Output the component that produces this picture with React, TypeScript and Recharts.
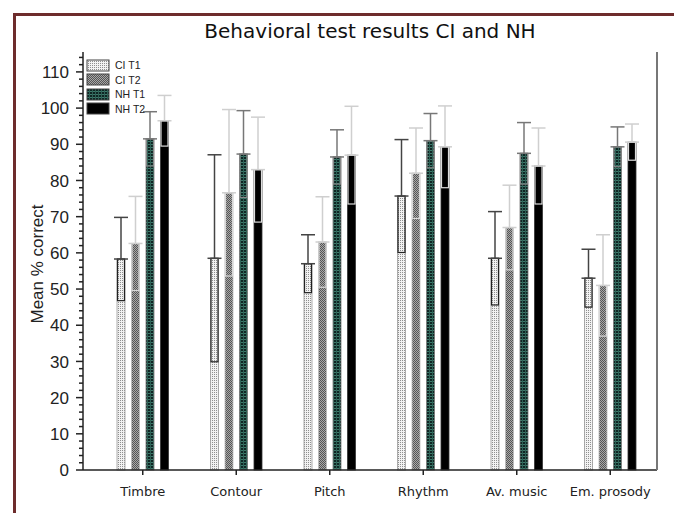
import React from 'react';
import { BarChart, Bar, XAxis, YAxis, ErrorBar, Legend, Label } from 'recharts';

const categories = ['Timbre', 'Contour', 'Pitch', 'Rhythm', 'Av. music', 'Em. prosody'];
const ciT1 = [58.3, 58.5, 57, 75.7, 58.5, 53];
const ciT1Sd = [11.5, 28.6, 8, 15.6, 12.9, 8];
const ciT2 = [62.6, 76.6, 63, 82, 67, 51];
const ciT2Sd = [13, 23, 12.5, 12.5, 11.7, 14];
const nhT1 = [91.5, 87.3, 86.5, 91, 87.5, 89.3];
const nhT1Sd = [7.5, 12, 7.5, 7.5, 8.5, 5.5];
const nhT2 = [96.5, 83, 87, 89.3, 84, 90.6];
const nhT2Sd = [7, 14.5, 13.5, 11.3, 10.5, 5];
const yTicks = Array.from({ length: 58 }, (_, i) => i * 2);

const data = categories.map((name, i) => ({
  name,
  ciT1: ciT1[i], ciT1Sd: ciT1Sd[i], ciT1Err: [0, ciT1Sd[i]],
  ciT2: ciT2[i], ciT2Sd: ciT2Sd[i], ciT2Err: [0, ciT2Sd[i]],
  nhT1: nhT1[i], nhT1Sd: nhT1Sd[i], nhT1Err: [0, nhT1Sd[i]],
  nhT2: nhT2[i], nhT2Sd: nhT2Sd[i], nhT2Err: [0, nhT2Sd[i]],
}));

// bar with the lower half of the error drawn as an outlined box inside it
const makeShape = (key: string, boxStroke: string, barStroke: string) => (props: any) => {
  const { x, y, width, height, fill, payload } = props;
  const k = height / payload[key];
  const boxH = payload[key + 'Sd'] * k;
  return (
    <g>
      <rect x={x} y={y} width={width} height={height} fill={fill} stroke={barStroke} strokeWidth={0.8} />
      <rect x={x + 0.5} y={y} width={width - 1} height={boxH} fill="none" stroke={boxStroke} strokeWidth={1.2} />
    </g>
  );
};

const YTick = (props: any) => {
  const { x, y, payload } = props;
  const major = payload.value % 10 === 0;
  return (
    <g>
      <line x1={x - (major ? 7 : 4)} x2={x} y1={y} y2={y} stroke="#222" strokeWidth={1.5} />
      {major && (
        <text x={x - 14} y={y} dy="0.36em" textAnchor="end" fontSize={17} fill="#222" fontFamily="Liberation Sans, Arial, sans-serif">
          {payload.value}
        </text>
      )}
    </g>
  );
};

const LegendBox = (props: any) => {
  const { payload } = props;
  return (
    <div>
      {payload.map((entry: any) => (
        <div key={entry.value} style={{ display: 'flex', alignItems: 'center', height: 14.5 }}>
          <svg width={24} height={13} style={{ display: 'block' }}>
            <rect x={1} y={1} width={22} height={11} fill={entry.color} stroke="#444" strokeWidth={1} />
          </svg>
          <span style={{ marginLeft: 5, fontSize: 10.5, color: '#222', fontFamily: 'Liberation Sans, Arial, sans-serif' }}>{entry.value}</span>
        </div>
      ))}
    </div>
  );
};

export default function App() {
  return (
    <div style={{ position: 'absolute', left: 0, top: 0, width: 674, height: 513, background: '#fff', overflow: 'hidden' }}>
      <div style={{ position: 'absolute', left: 13, top: 13, right: 0, bottom: 0, borderTop: '3px solid #6e2c2c', borderLeft: '3px solid #6e2c2c' }} />
      <div style={{ position: 'absolute', left: 83, width: 574, top: 19, textAlign: 'center', fontSize: 20, color: '#111', fontFamily: 'DejaVu Sans, sans-serif' }}>
        Behavioral test results CI and NH
      </div>
      <div style={{ position: 'absolute', left: 0, top: 0 }}>
        <BarChart width={674} height={513} data={data} margin={{ top: 52, right: 0, bottom: 0, left: 0 }} barSize={8} barGap={6.5}>
          <defs>
            <pattern id="pCiT1" width={2} height={2} patternUnits="userSpaceOnUse">
              <rect width={2} height={2} fill="#f2f2f2" />
              <rect width={1} height={1} fill="#8f8f8f" />
            </pattern>
            <pattern id="pCiT2" width={2} height={2} patternUnits="userSpaceOnUse">
              <rect width={2} height={2} fill="#a8a8a8" />
              <rect width={1} height={1} fill="#555" />
              <rect x={1} y={1} width={1} height={1} fill="#555" />
            </pattern>
            <pattern id="pNhT1" width={3} height={3} patternUnits="userSpaceOnUse">
              <rect width={3} height={3} fill="#0f2624" />
              <rect width={3} height={1} fill="#3d7a6c" />
              <rect width={1} height={3} fill="#2f6156" />
            </pattern>
          </defs>
          <XAxis dataKey="name" height={43} stroke="#222" strokeWidth={1.5} tickSize={5} tickMargin={12} padding={{ left: 13, right: 0 }}
            tick={{ fontSize: 13, fill: '#222', fontFamily: 'DejaVu Sans, sans-serif' }} />
          <XAxis xAxisId="top" orientation="top" dataKey="name" height={0} tick={false} tickLine={false} stroke="#777" strokeWidth={2} />
          <YAxis width={83} domain={[0, 115.5]} ticks={yTicks} interval={0} tickSize={0} tickMargin={0} tickLine={false}
            stroke="#222" strokeWidth={1.5} tick={<YTick />}>
            <Label content={(p: any) => {
              const vb = p.viewBox;
              const cy = vb.y + vb.height / 2 + 3;
              return (
                <text x={43} y={cy} transform={`rotate(-90 43 ${cy})`} textAnchor="middle" fontSize={17} fill="#222" fontFamily="Liberation Sans, Arial, sans-serif">
                  Mean % correct
                </text>
              );
            }} />
          </YAxis>
          <YAxis yAxisId="right" orientation="right" width={17} tick={false} tickLine={false} stroke="#777" strokeWidth={2} domain={[0, 115.5]} />
          <Legend layout="vertical" align="center" verticalAlign="middle" content={<LegendBox />}
            wrapperStyle={{ position: 'absolute', left: 86, top: 58, width: 'auto', height: 'auto' }} />
          <Bar dataKey="ciT1" name="CI T1" fill="url(#pCiT1)" isAnimationActive={false} shape={makeShape('ciT1', '#222', '#999')}>
            <ErrorBar dataKey="ciT1Err" width={7} stroke="#444" strokeWidth={1.5} />
          </Bar>
          <Bar dataKey="ciT2" name="CI T2" fill="url(#pCiT2)" isAnimationActive={false} shape={makeShape('ciT2', '#d8d8d8', '#bbb')}>
            <ErrorBar dataKey="ciT2Err" width={7} stroke="#cfcfcf" strokeWidth={1.5} />
          </Bar>
          <Bar dataKey="nhT1" name="NH T1" fill="url(#pNhT1)" isAnimationActive={false} shape={makeShape('nhT1', '#888', '#777')}>
            <ErrorBar dataKey="nhT1Err" width={7} stroke="#777" strokeWidth={1.5} />
          </Bar>
          <Bar dataKey="nhT2" name="NH T2" fill="#000" isAnimationActive={false} shape={makeShape('nhT2', '#ddd', '#333')}>
            <ErrorBar dataKey="nhT2Err" width={7} stroke="#cfcfcf" strokeWidth={1.5} />
          </Bar>
        </BarChart>
      </div>
    </div>
  );
}
